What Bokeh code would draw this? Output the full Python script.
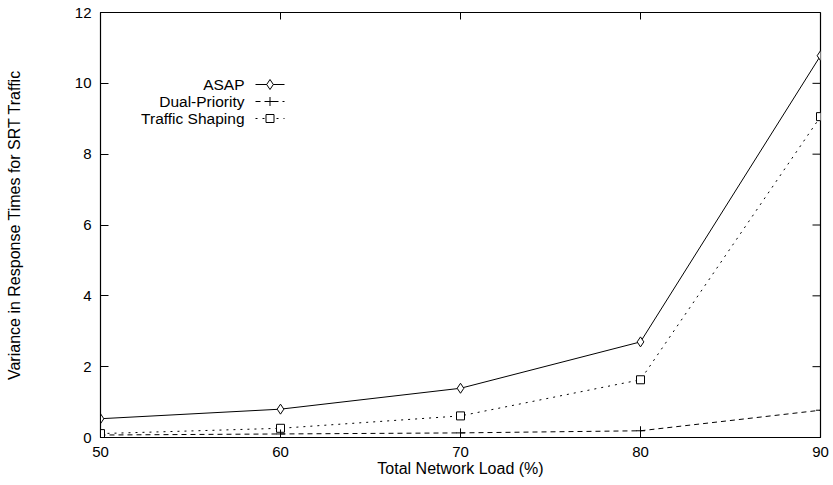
from bokeh.plotting import figure
from bokeh.models import Range1d, FixedTicker, Label
from bokeh.embed import file_html
from bokeh.resources import INLINE

loads = [50, 60, 70, 80, 90]
asap = [0.53, 0.80, 1.39, 2.70, 10.78]
dual_priority = [0.07, 0.10, 0.13, 0.19, 0.77]
traffic_shaping = [0.11, 0.26, 0.61, 1.63, 9.06]
x_ticks = [50, 60, 70, 80, 90]
y_ticks = [0, 2, 4, 6, 8, 10, 12]
series_names = ["ASAP", "Dual-Priority", "Traffic Shaping"]

FONT = "Liberation Sans"

p = figure(width=833, height=485, output_backend="svg", toolbar_location=None,
           x_range=Range1d(50, 90), y_range=Range1d(0, 12),
           min_border_left=100, min_border_right=13, min_border_top=12, min_border_bottom=48)
p.background_fill_color = "white"
p.border_fill_color = "white"
p.outline_line_color = "black"
p.outline_line_width = 1.2
p.grid.visible = False

for ax in (p.xaxis[0], p.yaxis[0]):
    ax.major_tick_in = 8
    ax.major_tick_out = 0
    ax.minor_tick_line_color = None
    ax.axis_line_color = "black"
    ax.major_label_text_font = FONT
    ax.major_label_text_font_size = "15px"
    ax.major_label_text_color = "black"
    ax.axis_label_text_font = FONT
    ax.axis_label_text_font_size = "16px"
    ax.axis_label_text_font_style = "normal"
    ax.axis_label_text_color = "black"

p.xaxis.ticker = FixedTicker(ticks=x_ticks)
p.yaxis.ticker = FixedTicker(ticks=y_ticks)
p.xaxis.axis_label = "Total Network Load (%)"
p.yaxis.axis_label = "Variance in Response Times for SRT Traffic"
p.xaxis.major_label_standoff = 9
p.xaxis.axis_label_standoff = 0
p.yaxis.major_label_standoff = 9
p.yaxis.axis_label_standoff = 49

# mirror ticks (right and top), inward
xpx = 40 / 720.0
ypx = 12 / 425.0
yt = [t for t in y_ticks if 0 < t < 12]
p.segment(x0=[90] * len(yt), y0=yt, x1=[90 - 8 * xpx] * len(yt), y1=yt, line_color="black", line_width=1)
xt = [t for t in x_ticks if 50 < t < 90]
p.segment(x0=xt, y0=[12] * len(xt), x1=xt, y1=[12 - 7 * ypx] * len(xt), line_color="black", line_width=1)

# series
p.line(loads, asap, line_color="black", line_width=1)
p.scatter(loads, asap, marker="diamond", size=10, fill_color="white", line_color="black", line_width=1)

p.line(loads, dual_priority, line_color="black", line_width=1, line_dash="5 4")
p.scatter(loads, dual_priority, marker="cross", size=9, line_color="black", line_width=1)

p.line(loads, traffic_shaping, line_color="black", line_width=1, line_dash="2 5")
p.scatter(loads, traffic_shaping, marker="square", size=8, fill_color="white", line_color="black", line_width=1)

# legend (gnuplot style: text right-aligned, sample to the right)
lx_text = 50 + (244 - 100) * xpx
lx0 = 50 + (255 - 100) * xpx
lx1 = 50 + (284 - 100) * xpx
lxm = (lx0 + lx1) / 2
rows = [12 - (84 - 12) * ypx, 12 - (101 - 12) * ypx, 12 - (118 - 12) * ypx]
dashes = ["solid", "5 4", "2 5"]
markers = ["diamond", "cross", "square"]
sizes = [10, 9, 8]
for name, ry, d, m, s in zip(series_names, rows, dashes, markers, sizes):
    p.add_layout(Label(x=lx_text, y=ry, text=name, text_align="right", text_baseline="middle",
                       text_font=FONT, text_font_size="15.5px", text_color="black"))
    p.line([lx0, lx1], [ry, ry], line_color="black", line_width=1, line_dash=d)
    p.scatter([lxm], [ry], marker=m, size=s, fill_color="white", line_color="black", line_width=1)

open("out.html", "w").write(file_html(p, INLINE))
